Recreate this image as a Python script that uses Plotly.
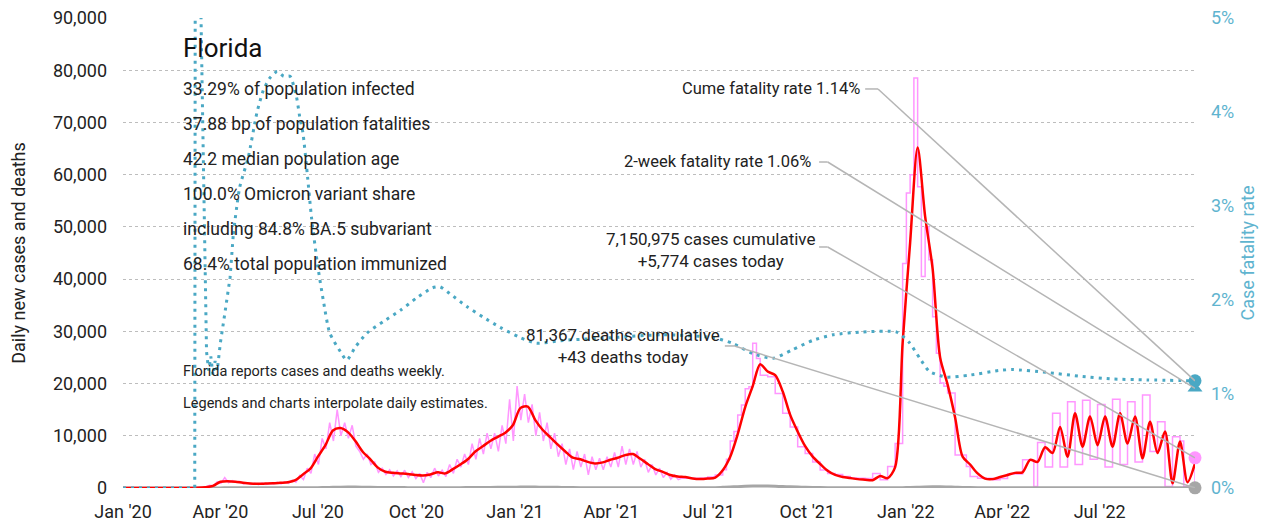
import pandas as pd
import plotly.graph_objects as go

FONT = "Roboto, sans-serif"
TEAL = "#4aa8c4"
PINK = "#ff96ff"
RED = "#ff0000"
GRAY = "#a6a6a6"

end_date = "2022-09-28"

# 7-day average of new cases, one value per week from 2020-01-01
avg_cases = [
    0, 0, 0, 0, 0, 0, 0, 0, 0, 0, 50, 150, 400, 1200, 1300, 1200, 1000, 850, 800, 850,
    900, 1000, 1100, 1500, 2600, 3700, 6000, 8200, 11000, 11500, 10700, 9000, 6900, 5500, 3900, 3100, 2900, 2800, 2700, 2500,
    2400, 2600, 3000, 2800, 3600, 4500, 5500, 7000, 8000, 9000, 9800, 10600, 12000, 15300, 15600, 13000, 11100, 9700, 8300, 7000,
    5800, 5500, 5000, 4700, 4900, 5400, 5800, 6300, 6500, 5600, 4600, 3600, 3100, 2500, 2200, 2100, 1800, 1700, 1800, 2000,
    3400, 6000, 10300, 15500, 19500, 23700, 22300, 21600, 18500, 14000, 10800, 8000, 6000, 4600, 3300, 2500, 2100, 1900, 1700, 1600,
    1500, 2300, 1900, 4000, 27800, 47000, 65200, 52000, 42000, 25000, 19800, 13500, 6000, 4500, 2800, 1800, 1700, 2100, 2500, 2900,
    3000, 5400, 5000, 7800, 6700, 11700, 6000, 14300, 7900, 13700, 8200, 13700, 7900, 14300, 8500, 13700, 5700, 12700, 6700, 10800,
    900, 8900, 1100, 4700,
]

# daily deaths (7-day average), same weekly dates
avg_deaths = [
    0, 0, 0, 0, 0, 0, 0, 0, 0, 0, 0, 0, 5, 20, 40, 50, 55, 50, 45, 45,
    40, 35, 35, 35, 40, 45, 60, 90, 120, 160, 180, 170, 150, 130, 110, 100, 90, 80, 70, 60,
    55, 50, 55, 60, 65, 70, 80, 90, 100, 110, 120, 130, 150, 170, 175, 170, 160, 140, 120, 100,
    80, 70, 65, 60, 60, 60, 60, 60, 60, 55, 50, 45, 40, 35, 30, 30, 30, 35, 45, 70,
    120, 180, 260, 330, 370, 380, 360, 320, 270, 220, 170, 130, 100, 80, 60, 45, 35, 30, 25, 25,
    25, 30, 35, 40, 60, 100, 150, 200, 230, 220, 190, 150, 110, 80, 55, 40, 30, 25, 25, 25,
    30, 35, 40, 45, 50, 55, 55, 60, 60, 60, 60, 55, 55, 50, 50, 50, 45, 45, 45, 45,
    40, 40, 40, 43,
]

# daily new cases, two readings a week from 2020-03-01 (daily reporting period)
daily_cases_early = [
    0, 20, 30, 60, 150, 250, 500, 400, 1200, 900, 2000, 1000, 1400, 1100, 1300, 800,
    1000, 700, 900, 650, 950, 700, 900, 750, 1100, 800, 1200, 900, 1500, 1100, 2400, 1600,
    3800, 2800, 6500, 4500, 9500, 7500, 12500, 9000, 15000, 10000, 12500, 9500, 12000, 8000,
    7000, 5500, 6500, 4500, 5000, 3000, 3800, 2600, 3500, 2300, 3300, 2200, 3400, 2000,
    3100, 1800, 2800, 1000, 3000, 2000, 3800, 2300, 3400, 2200, 4500, 2800, 5500, 4000,
    6500, 4500, 8500, 5500, 9500, 6500, 10500, 7500, 10500, 7000, 12000, 8500, 17000, 9000,
    19500, 13000, 18000, 12500, 16000, 10000, 14500, 9000, 12500, 7500, 10500, 6000,
    8500, 4500, 7500, 3500, 7000, 4000, 6500, 2500, 6000, 3500, 5700, 3500, 6000, 4000,
    6800, 4000, 8000, 4500, 7500, 4500, 7000, 4000, 5500, 3000, 4500, 2500, 3800, 2000,
    3000, 1700, 2500, 1600, 1900, 1850,
]

# daily new cases, weekly reporting period from 2021-06-09 (interpolated steps)
daily_cases_late = [
    1850, 1850, 1850, 1850, 1900, 1900, 2100, 2100, 2500, 2500, 3500, 5500, 9000, 10800,
    14000, 15900, 19000, 19400, 27700, 24800, 21600, 21600, 21300, 21300, 18100, 18100,
    14300, 14300, 11700, 11700, 7900, 7900, 6600, 6600, 5000, 5000, 3450, 3450, 2800, 2800,
    2600, 2600, 2200, 2200, 1900, 1900, 1850, 1850, 1800, 1800, 2800, 2800, 1600, 1600,
    4100, 4100, 8500, 8500, 43000, 56500, 60000, 78500, 57700, 40500, 50000, 43700,
    32800, 25800, 20100, 19500, 18200, 18200, 6300, 6300, 6300, 4100, 2200, 2200,
    1850, 1850, 1850, 1850, 1600, 1600, 1800, 1800, 2700, 2700, 2700, 2700, 5400, 5400,
    5400, 300, 8700, 8700, 4000, 4000, 14300, 14300, 4000, 4000, 16500, 16500, 4500, 4500,
    16800, 16800, 5500, 5500, 16000, 16000, 4000, 4000, 17000, 17000, 4500, 4500,
    16500, 16500, 5000, 5000, 17800, 17800, 7000, 7000, 12700, 12700, 300, 300,
    9800, 9800, 9000, 300, 300, 300, 5774,
]

# case fatality rate (%), by days since 2020-01-01; early jumpy part drawn straight
cfr_day_early = [0, 67, 68, 70, 72, 74, 76, 78, 80, 82, 84, 86, 88, 91, 95, 100, 103]
cfr_pct_early = [0, 0, 12, 9, 5.6, 4.2, 2.8, 1.45, 1.25, 1.4, 1.2, 1.35, 1.25, 1.55, 1.85, 2.24, 2.7]
cfr_day = [
    103, 109, 117, 125,
    131, 137, 144, 150, 156, 162, 165, 168, 172, 176, 182, 187, 193, 203, 209, 217, 228, 243, 259, 274,
    289, 296, 305, 321, 336, 352, 371, 386, 411, 457, 504, 551, 569, 588, 607, 625, 644, 663, 691, 722,
    734, 744, 753, 769, 790, 818, 831, 862, 893, 924, 956, 1001,
]
cfr_pct = [
    2.7, 3.2, 3.52, 3.99,
    4.23, 4.36, 4.43, 4.38, 4.38, 4.16, 3.95, 3.78, 3.35, 2.88, 2.35, 2.0, 1.65, 1.45, 1.36, 1.5, 1.65, 1.77, 1.89, 2.02,
    2.13, 2.14, 2.07, 1.93, 1.82, 1.71, 1.6, 1.54, 1.57, 1.6, 1.63, 1.6, 1.54, 1.43, 1.38, 1.47, 1.57, 1.63, 1.66, 1.66,
    1.55, 1.38, 1.24, 1.18, 1.2, 1.25, 1.26, 1.23, 1.19, 1.16, 1.15, 1.14,
]

cume_cfr = 1.14
two_week_cfr = 1.06
cases_today = 5774
deaths_today = 43

stats_lines = [
    "33.29% of population infected",
    "37.88 bp of population fatalities",
    "42.2 median population age",
    "100.0% Omicron variant share",
    "including 84.8% BA.5 subvariant",
    "68.4% total population immunized",
]
notes = [
    "Florida reports cases and deaths weekly.",
    "Legends and charts interpolate daily estimates.",
]

day0 = pd.Timestamp("2020-01-01")
week_dates = pd.date_range("2020-01-01", periods=len(avg_cases), freq="7D")
early_dates = pd.date_range("2020-03-01", periods=len(daily_cases_early), freq="84h")
late_dates = pd.date_range("2021-06-09", periods=len(daily_cases_late), freq="84h")
cfr_dates_early = day0 + pd.to_timedelta(cfr_day_early, unit="D")
cfr_dates = day0 + pd.to_timedelta(cfr_day, unit="D")

fig = go.Figure()

fig.add_trace(go.Scatter(x=early_dates, y=daily_cases_early, mode="lines",
                         line=dict(color=PINK, width=1.5)))
fig.add_trace(go.Scatter(x=late_dates, y=daily_cases_late, mode="lines",
                         line=dict(color=PINK, width=1.5, shape="hv")))
fig.add_trace(go.Scatter(x=week_dates, y=avg_deaths, mode="lines",
                         line=dict(color=GRAY, width=3, shape="spline")))
fig.add_trace(go.Scatter(x=week_dates, y=avg_cases, mode="lines",
                         line=dict(color=RED, width=2.5, shape="spline", smoothing=0.8)))
teal_line = dict(color=TEAL, width=3, dash="3px,5px")
fig.add_trace(go.Scatter(x=cfr_dates_early, y=cfr_pct_early, mode="lines", yaxis="y2",
                         line=teal_line))
fig.add_trace(go.Scatter(x=cfr_dates, y=cfr_pct, mode="lines", yaxis="y2",
                         line=dict(teal_line, shape="spline", smoothing=0.6)))

# end markers
fig.add_trace(go.Scatter(x=[end_date], y=[cases_today], mode="markers", cliponaxis=False,
                         marker=dict(color=PINK, size=13)))
fig.add_trace(go.Scatter(x=[end_date], y=[deaths_today], mode="markers", cliponaxis=False,
                         marker=dict(color=GRAY, size=13)))
fig.add_trace(go.Scatter(x=[end_date], y=[two_week_cfr], mode="markers", yaxis="y2", cliponaxis=False,
                         marker=dict(color=TEAL, size=13, symbol="triangle-up")))
fig.add_trace(go.Scatter(x=[end_date], y=[cume_cfr], mode="markers", yaxis="y2", cliponaxis=False,
                         marker=dict(color=TEAL, size=13)))

annotations = [
    dict(text="Florida", x=0.054, y=0.936, xref="paper", yref="paper", xanchor="left",
         yanchor="middle", showarrow=False, font=dict(size=26, color="#111")),
]
for i, line in enumerate(stats_lines):
    annotations.append(dict(text=line, x=0.054, y=0.849 - i * 0.0745, xref="paper", yref="paper",
                            xanchor="left", yanchor="middle", showarrow=False,
                            font=dict(size=17.5, color="#222")))
for i, line in enumerate(notes):
    annotations.append(dict(text=line, x=0.054, y=0.247 - i * 0.068, xref="paper", yref="paper",
                            xanchor="left", yanchor="middle", showarrow=False,
                            font=dict(size=14.5, color="#222")))

annotations += [
    dict(text=f"Cume fatality rate {cume_cfr:.2f}%", x=0.689, y=0.849, xref="paper", yref="paper",
         xanchor="right", yanchor="middle", showarrow=False, font=dict(size=16.5, color="#222")),
    dict(text=f"2-week fatality rate {two_week_cfr:.2f}%", x=0.644, y=0.694, xref="paper", yref="paper",
         xanchor="right", yanchor="middle", showarrow=False, font=dict(size=16.5, color="#222")),
    dict(text=f"7,150,975 cases cumulative<br>+{cases_today:,} cases today", x=0.548, y=0.507,
         xref="paper", yref="paper", xanchor="center", yanchor="middle", align="center",
         showarrow=False, font=dict(size=17, color="#222")),
    dict(text=f"81,367 deaths cumulative<br>+{deaths_today} deaths today", x=0.466, y=0.302,
         xref="paper", yref="paper", xanchor="center", yanchor="middle", align="center",
         showarrow=False, font=dict(size=17, color="#222")),
]

leader = dict(color="#b5b5b5", width=1.5)
shapes = [
    # cume fatality rate
    dict(type="line", xref="x", yref="y2", x0="2021-11-24", x1="2021-12-06", y0=4.245, y1=4.245, line=leader),
    dict(type="line", xref="x", yref="y2", x0="2021-12-06", x1=end_date, y0=4.245, y1=cume_cfr, line=leader),
    # 2-week fatality rate
    dict(type="line", xref="x", yref="y2", x0="2021-10-12", x1="2021-10-20", y0=3.468, y1=3.468, line=leader),
    dict(type="line", xref="x", yref="y2", x0="2021-10-20", x1=end_date, y0=3.468, y1=two_week_cfr, line=leader),
    # cases
    dict(type="line", xref="x", yref="y", x0="2021-10-12", x1="2021-10-20", y0=46150, y1=46150, line=leader),
    dict(type="line", xref="x", yref="y", x0="2021-10-20", x1=end_date, y0=46150, y1=cases_today, line=leader),
    # deaths
    dict(type="line", xref="x", yref="y", x0="2021-07-16", x1="2021-07-25", y0=27200, y1=27200, line=leader),
    dict(type="line", xref="x", yref="y", x0="2021-07-25", x1=end_date, y0=27200, y1=deaths_today, line=leader),
]

# the page body has an 8px margin, so the figure is a little smaller and margins shifted
fig.update_layout(
    width=1275, height=510,
    margin=dict(l=115, r=88, t=10, b=30),
    plot_bgcolor="white", paper_bgcolor="white",
    font=dict(family=FONT, size=19, color="#222"),
    showlegend=False,
    annotations=annotations,
    shapes=shapes,
    xaxis=dict(
        type="date", range=["2020-01-01", end_date], automargin=False,
        tickformat="%b '%y", dtick="M3", tick0="2020-01-01",
        showgrid=False, zeroline=False, showline=False,
        ticks="outside", ticklen=7, tickcolor="rgba(0,0,0,0)",
        ticklabeloverflow="allow",
        tickfont=dict(size=18, color="#222"),
    ),
    yaxis=dict(
        range=[0, 90000], dtick=10000, tickformat=",", automargin=False,
        showgrid=True, gridcolor="#bdbdbd", griddash="dot", gridwidth=1,
        zeroline=False, showline=False, ticks="", ticklabelstandoff=15,
        ticklabeloverflow="allow",
        title=dict(text="Daily new cases and deaths", standoff=26, font=dict(size=18)),
        tickfont=dict(size=18, color="#222"),
    ),
    yaxis2=dict(
        overlaying="y", side="right", range=[0, 5], dtick=1, ticksuffix="%", automargin=False,
        showgrid=False, zeroline=False, showline=False, ticks="", ticklabelstandoff=15,
        ticklabeloverflow="allow",
        tickfont=dict(size=18, color="#5fb4cf"),
        title=dict(text="Case fatality rate", standoff=8, font=dict(size=18, color="#5fb4cf")),
    ),
)

fig.write_html("out.html")
